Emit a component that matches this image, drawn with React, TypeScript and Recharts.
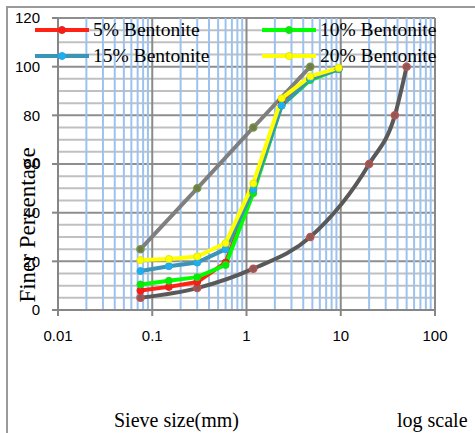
import React from "react"
import { LineChart, Line, XAxis, YAxis, ReferenceLine } from "recharts"

// sieve sizes (mm) for the bentonite mixes
const sieveSizes = [0.075, 0.15, 0.3, 0.6, 1.18, 2.36, 4.75, 9.5]
const bentonite5 = [8, 9.5, 11.5, 19.5, 49, 85, 95, 99]
const bentonite10 = [10.5, 12, 13.5, 18.5, 48, 84, 94.5, 99]
const bentonite15 = [16, 18, 19.5, 25, 49.5, 84, 95, 99]
const bentonite20 = [20.5, 21, 22, 27.5, 52, 87, 96, 99.5]

// the two unlabelled reference curves
const coarseSizes = [0.075, 0.3, 1.18, 4.75, 20, 37.5, 50]
const coarseFiner = [5, 9, 17, 30, 60, 80, 100]
const upperSizes = [0.075, 0.3, 1.18, 4.75]
const upperFiner = [25, 50, 75, 100]

const xTicks = [0.01, 0.1, 1, 10, 100]
const yTicks = [0, 20, 40, 60, 80, 100, 120]

const toPoints = (xs: number[], ys: number[]) => xs.map((x, i) => ({ x, y: ys[i] }))

const series = [
  { name: "5% Bentonite", data: toPoints(sieveSizes, bentonite5), line: "#ff2215", dot: "#ff1a1a", ring: "#e0261c" },
  { name: "10% Bentonite", data: toPoints(sieveSizes, bentonite10), line: "#00ff00", dot: "#00f000", ring: "#22d822" },
  { name: "15% Bentonite", data: toPoints(sieveSizes, bentonite15), line: "#3a95b6", dot: "#1cb0f0", ring: "#2aa6e0" },
  { name: "20% Bentonite", data: toPoints(sieveSizes, bentonite20), line: "#ffff00", dot: "#ffff00", ring: "#e8e800" },
]

// grid positions
const minorX: number[] = []
;[0.01, 0.1, 1, 10].forEach((d) => {
  for (let k = 2; k <= 9; k++) minorX.push(+(d * k).toPrecision(3))
})
const minorY: number[] = []
for (let v = 5; v < 120; v += 5) if (v % 20 !== 0) minorY.push(v)

const serif = "'Liberation Serif', 'Times New Roman', serif"
const sans = "'Liberation Sans', Arial, sans-serif"

function LegendItem({ item, left, top }: { item: (typeof series)[number]; left: number; top: number }) {
  return (
    <div style={{ position: "absolute", left, top, height: 26, display: "flex", alignItems: "center" }}>
      <svg width={56} height={12} style={{ display: "block" }}>
        <line x1={1} y1={6} x2={55} y2={6} stroke={item.line} strokeWidth={4} />
        <circle cx={28} cy={6} r={3.5} fill={item.dot} stroke={item.ring} strokeWidth={1} />
      </svg>
      <span style={{ fontFamily: serif, fontSize: 19.5, marginLeft: 3, color: "#000", whiteSpace: "nowrap" }}>
        {item.name}
      </span>
    </div>
  )
}

export default function App() {
  return (
    <div style={{ position: "absolute", left: 0, top: 0, width: 475, height: 433, background: "#fff", overflow: "hidden" }}>
      {/* chart frame */}
      <div style={{ position: "absolute", left: 6, top: 6, width: 480, height: 440, borderLeft: "2px solid #9a9a9a", borderTop: "2px solid #9a9a9a" }} />

      <LineChart width={475} height={433} margin={{ top: 18, right: 40, bottom: 93, left: 8 }} style={{ position: "absolute", left: 0, top: 0 }}>
        <XAxis
          dataKey="x"
          type="number"
          scale="log"
          domain={[0.01, 100]}
          ticks={xTicks}
          allowDataOverflow
          height={30}
          stroke="#868686"
          strokeWidth={2}
          tickSize={6}
          tickMargin={14}
          tick={{ fontSize: 15, fill: "#000", fontFamily: sans }}
        />
        <YAxis
          type="number"
          domain={[0, 120]}
          ticks={yTicks}
          width={50}
          stroke="#868686"
          strokeWidth={2}
          tickSize={6}
          tickMargin={12}
          tick={{ fontSize: 15, fill: "#000", fontFamily: sans }}
        />

        {minorY.map((v) => (
          <ReferenceLine key={`my-${v}`} y={v} stroke="#c0c0c0" strokeWidth={2} />
        ))}
        {yTicks.slice(1).map((v) => (
          <ReferenceLine key={`My-${v}`} y={v} stroke="#8e8e8e" strokeWidth={2} />
        ))}
        {minorX.map((v) => (
          <ReferenceLine key={`mx-${v}`} x={v} stroke="#9cc3f0" strokeWidth={2} />
        ))}
        {xTicks.slice(1).map((v) => (
          <ReferenceLine key={`Mx-${v}`} x={v} stroke="#8a8a8a" strokeWidth={2} />
        ))}

        <Line
          data={toPoints(coarseSizes, coarseFiner)}
          dataKey="y"
          type="monotone"
          stroke="#595959"
          strokeWidth={4}
          dot={{ r: 3.5, fill: "#8a5a58", stroke: "#c0504d", strokeWidth: 1.5 }}
          isAnimationActive={false}
        />
        <Line
          data={toPoints(upperSizes, upperFiner)}
          dataKey="y"
          type="linear"
          stroke="#7f7f7f"
          strokeWidth={4}
          dot={{ r: 3.5, fill: "#6e7a50", stroke: "#77933c", strokeWidth: 1.5 }}
          isAnimationActive={false}
        />
        {series.map((s) => (
          <Line
            key={s.name}
            data={s.data}
            dataKey="y"
            name={s.name}
            type="linear"
            stroke={s.line}
            strokeWidth={4}
            dot={{ r: 3.5, fill: s.dot, stroke: s.ring, strokeWidth: 1 }}
            isAnimationActive={false}
          />
        ))}
      </LineChart>

      {/* legend */}
      <LegendItem item={series[0]} left={34} top={17} />
      <LegendItem item={series[2]} left={34} top={43} />
      <LegendItem item={series[1]} left={261} top={17} />
      <LegendItem item={series[3]} left={261} top={43} />

      {/* axis titles */}
      <div
        style={{
          position: "absolute",
          left: 28,
          top: 225,
          transform: "translate(-50%, -50%) rotate(-90deg)",
          fontFamily: serif,
          fontSize: 23,
          whiteSpace: "nowrap",
          color: "#000",
        }}
      >
        Finer Percentage
      </div>
      <div style={{ position: "absolute", left: 114, top: 409, fontFamily: serif, fontSize: 20, whiteSpace: "nowrap", color: "#000" }}>
        Sieve size(mm)
      </div>
      <div style={{ position: "absolute", left: 397, top: 409, fontFamily: serif, fontSize: 20, whiteSpace: "nowrap", color: "#000" }}>
        log scale
      </div>
    </div>
  )
}
